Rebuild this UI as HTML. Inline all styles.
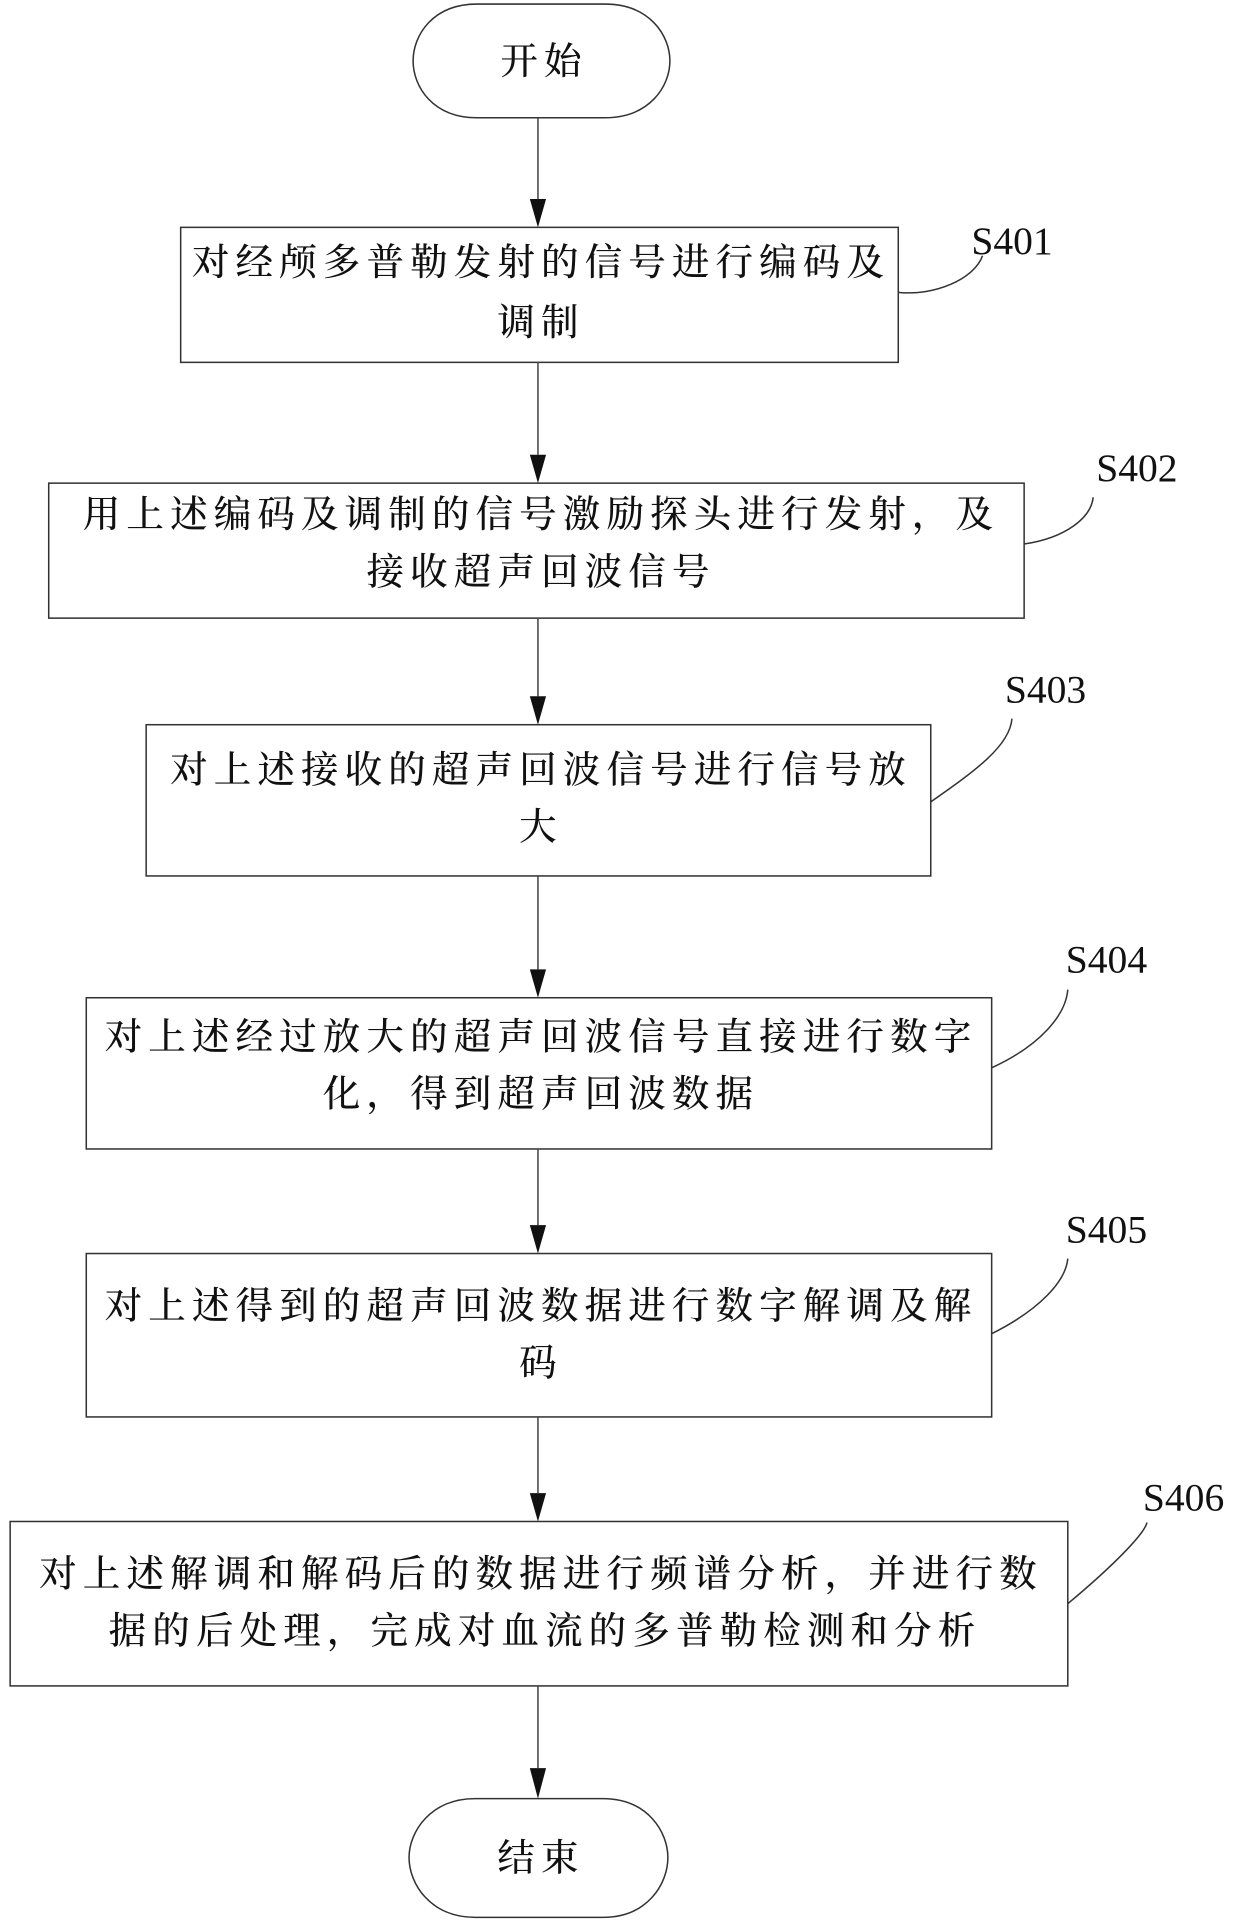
<!DOCTYPE html>
<html><head><meta charset="utf-8"><style>
html,body{margin:0;padding:0;background:#fff;}
svg{display:block;}
.t{font-family:"Liberation Serif","Noto Serif CJK SC",serif;font-size:37px;letter-spacing:6px;fill:#111;text-anchor:middle;font-weight:500;}
.l{font-family:"Liberation Serif",serif;font-size:39px;fill:#111;}
</style></head><body>
<svg width="1240" height="1927" viewBox="0 0 1240 1927" xmlns="http://www.w3.org/2000/svg">
<g transform="scale(1.015)">
<g fill="none" stroke="#333" stroke-width="1.5">
<path d="M470,4 L596,4 C640,4 660,35 660,60 C660,85 640,116 596,116 L470,116 C426,116 407,85 407,60 C407,35 426,4 470,4 Z"/>
<rect x="178" y="224" width="707" height="133"/>
<rect x="48" y="476" width="961" height="133"/>
<rect x="144" y="714" width="773" height="149"/>
<rect x="85" y="983" width="892" height="149"/>
<rect x="85" y="1235" width="892" height="161"/>
<rect x="10" y="1499" width="1042" height="162"/>
<path d="M468,1772 L594,1772 C638,1772 658,1805 658,1830 C658,1856 638,1889 594,1889 L468,1889 C424,1889 403,1856 403,1830 C403,1805 424,1772 468,1772 Z"/>
<g stroke="#444">
<line x1="530" y1="116" x2="530" y2="196"/>
<line x1="530" y1="357" x2="530" y2="448"/>
<line x1="530" y1="609" x2="530" y2="686"/>
<line x1="530" y1="863" x2="530" y2="955"/>
<line x1="530" y1="1132" x2="530" y2="1207"/>
<line x1="530" y1="1396" x2="530" y2="1471"/>
<line x1="530" y1="1661" x2="530" y2="1742"/>
</g>
<path d="M885,288 C920,292 960,275 968,252"/>
<path d="M1009,536 C1050,530 1075,510 1077,490"/>
<path d="M917,790 C960,760 995,735 997,708"/>
<path d="M977,1052 C1025,1030 1050,1000 1052,975"/>
<path d="M977,1314 C1025,1290 1050,1262 1052,1240"/>
<path d="M1052,1580 C1100,1540 1128,1510 1130,1500"/>
</g>
<g fill="#111">
<path d="M522,196 L538,196 L530,224 Z"/>
<path d="M522,448 L538,448 L530,476 Z"/>
<path d="M522,686 L538,686 L530,714 Z"/>
<path d="M522,955 L538,955 L530,983 Z"/>
<path d="M522,1207 L538,1207 L530,1235 Z"/>
<path d="M522,1471 L538,1471 L530,1499 Z"/>
<path d="M522,1742 L538,1742 L530,1772 Z"/>
</g>
<text class="t" x="536" y="73">开始</text>
<text class="t" x="533" y="271">对经颅多普勒发射的信号进行编码及</text>
<text class="t" x="533" y="330">调制</text>
<text class="t" x="533" y="519">用上述编码及调制的信号激励探头进行发射，及</text>
<text class="t" x="533" y="576">接收超声回波信号</text>
<text class="t" x="533" y="771">对上述接收的超声回波信号进行信号放</text>
<text class="t" x="533" y="827">大</text>
<text class="t" x="533" y="1034">对上述经过放大的超声回波信号直接进行数字</text>
<text class="t" x="533" y="1090">化，得到超声回波数据</text>
<text class="t" x="533" y="1299">对上述得到的超声回波数据进行数字解调及解</text>
<text class="t" x="533" y="1355">码</text>
<text class="t" x="533" y="1563">对上述解调和解码后的数据进行频谱分析，并进行数</text>
<text class="t" x="537" y="1619">据的后处理，完成对血流的多普勒检测和分析</text>
<text class="t" x="533" y="1843">结束</text>
<text class="l" x="957" y="250">S401</text>
<text class="l" x="1080" y="474">S402</text>
<text class="l" x="990" y="692">S403</text>
<text class="l" x="1050" y="958">S404</text>
<text class="l" x="1050" y="1224">S405</text>
<text class="l" x="1126" y="1488">S406</text>
</g>
</svg>
</body></html>
